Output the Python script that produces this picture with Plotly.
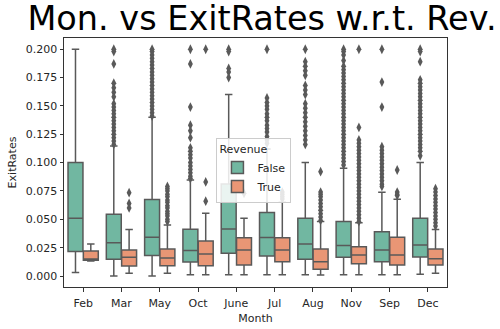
import plotly.graph_objects as go

months = ["Feb", "Mar", "May", "Oct", "June", "Jul", "Aug", "Nov", "Sep", "Dec"]

# Revenue = False
f_lower = [0.003, 0.000, 0.000, 0.001, 0.001, 0.001, 0.001, 0.001, 0.001, 0.0015]
f_q1 = [0.0215, 0.0147, 0.018, 0.0124, 0.020, 0.0176, 0.0147, 0.0165, 0.0126, 0.0168]
f_med = [0.0509, 0.0294, 0.0341, 0.0224, 0.0415, 0.034, 0.0282, 0.0268, 0.0229, 0.0274]
f_q3 = [0.100, 0.0544, 0.0674, 0.0412, 0.0812, 0.056, 0.0509, 0.048, 0.0391, 0.0509]
f_upper = [0.200, 0.1147, 0.140, 0.0847, 0.160, 0.112, 0.100, 0.095, 0.0738, 0.100]

# Revenue = True
t_lower = [0.0133, 0.0024, 0.0024, 0.001, 0.001, 0.001, 0.0009, 0.001, 0.001, 0.0024]
t_q1 = [0.0140, 0.0088, 0.0091, 0.0091, 0.0097, 0.0126, 0.0059, 0.0109, 0.0097, 0.0097]
t_med = [0.0150, 0.0165, 0.0159, 0.0194, 0.0229, 0.0229, 0.0126, 0.0185, 0.0185, 0.0153]
t_q3 = [0.0220, 0.0230, 0.0238, 0.0309, 0.0338, 0.0338, 0.0238, 0.0259, 0.0341, 0.0238]
t_upper = [0.0282, 0.041, 0.045, 0.0553, 0.051, 0.065, 0.048, 0.047, 0.0676, 0.041]

# Outliers (per month)
f_out = {
    "Feb": [],
    "Mar": [0.2, 0.198, 0.187, 0.170, 0.166, 0.162, 0.158, 0.152, 0.149, 0.146, 0.143,
            0.140, 0.137, 0.134, 0.131, 0.128, 0.125, 0.122, 0.119, 0.116],
    "May": [0.2, 0.198, 0.195, 0.192, 0.189, 0.186, 0.183, 0.180, 0.177, 0.174, 0.171,
            0.168, 0.165, 0.162, 0.159, 0.156, 0.153, 0.150, 0.147, 0.144, 0.141],
    "Oct": [0.2, 0.187, 0.149, 0.133, 0.128, 0.122, 0.113, 0.110, 0.107, 0.104, 0.100,
            0.097, 0.094, 0.091, 0.088, 0.086],
    "June": [0.2, 0.198, 0.183, 0.180, 0.175],
    "Jul": [0.2, 0.157, 0.153, 0.150, 0.147, 0.143, 0.140, 0.137, 0.133, 0.130, 0.127,
            0.123, 0.120, 0.117],
    "Aug": [0.2, 0.189, 0.185, 0.181, 0.177, 0.168, 0.164, 0.160, 0.152, 0.148, 0.144,
            0.140, 0.136, 0.132, 0.128, 0.124, 0.120, 0.116],
    "Nov": [0.2, 0.198, 0.195, 0.190, 0.185, 0.182, 0.179, 0.176, 0.173, 0.170, 0.167,
            0.164, 0.161, 0.158, 0.155, 0.152, 0.149, 0.146, 0.143, 0.140, 0.137, 0.134,
            0.131, 0.128, 0.125, 0.122, 0.119, 0.116, 0.113, 0.110, 0.107, 0.104, 0.101, 0.098],
    "Sep": [0.2, 0.171, 0.149, 0.114, 0.111, 0.108, 0.105, 0.102, 0.099, 0.096, 0.093,
            0.090, 0.087, 0.084, 0.081, 0.079],
    "Dec": [0.2, 0.198, 0.189, 0.173, 0.170, 0.167, 0.164, 0.161, 0.158, 0.155, 0.152,
            0.149, 0.146, 0.143, 0.140, 0.137, 0.134, 0.131, 0.128, 0.125, 0.122, 0.119,
            0.116, 0.113, 0.110, 0.106],
}
t_out = {
    "Feb": [],
    "Mar": [0.0735, 0.064, 0.060],
    "May": [0.079, 0.077, 0.075, 0.072, 0.070, 0.067, 0.065, 0.062, 0.060, 0.057, 0.055,
            0.053, 0.050, 0.048],
    "Oct": [0.2, 0.083, 0.066],
    "June": [0.073],
    "Jul": [0.074, 0.072, 0.070, 0.068],
    "Aug": [0.092, 0.074, 0.072, 0.070, 0.067, 0.064, 0.061, 0.058, 0.055, 0.052, 0.049],
    "Nov": [0.2, 0.131, 0.120, 0.117, 0.114, 0.111, 0.108, 0.105, 0.102, 0.099, 0.096,
            0.093, 0.090, 0.087, 0.084, 0.081, 0.078, 0.075, 0.072, 0.069, 0.066, 0.063,
            0.060, 0.057, 0.054, 0.051, 0.048],
    "Sep": [0.0935, 0.074, 0.072, 0.071],
    "Dec": [0.077, 0.074, 0.071, 0.068, 0.065, 0.062, 0.059, 0.056, 0.053, 0.050, 0.047, 0.044],
}

GREEN = "#71b7a1"
ORANGE = "#e99675"
GRAY = "#595959"
OFF = 0.2
BW = 0.39

idx = list(range(len(months)))
fig = go.Figure()

for name, col, off, lo, q1, med, q3, up, outs in [
    ("False", GREEN, -OFF, f_lower, f_q1, f_med, f_q3, f_upper, f_out),
    ("True", ORANGE, OFF, t_lower, t_q1, t_med, t_q3, t_upper, t_out),
]:
    xs = [i + off for i in idx]
    fig.add_trace(go.Box(
        name=name, x=xs, q1=q1, median=med, q3=q3, lowerfence=lo, upperfence=up,
        width=BW, fillcolor=col, line=dict(color=GRAY, width=1.5),
        whiskerwidth=0.5, boxpoints=False, showlegend=True,
    ))
    ox, oy = [], []
    for i, m in enumerate(months):
        for v in outs[m]:
            ox.append(i + off)
            oy.append(v)
    fig.add_trace(go.Scatter(
        x=ox, y=oy, mode="markers", showlegend=False, hoverinfo="skip",
        marker=dict(symbol="diamond-tall", size=7, color=GRAY, line=dict(width=0)),
    ))

FONT = "DejaVu Sans"
fig.update_layout(
    width=500, height=329,
    margin=dict(l=64, r=53, t=38, b=42),
    paper_bgcolor="white", plot_bgcolor="white",
    font=dict(family=FONT, size=11, color="#262626"),
    title=dict(text="Mon. vs ExitRates w.r.t. Rev.", x=0.524, xanchor="center",
               y=0.945, yanchor="middle", font=dict(family=FONT, size=33.5, color="black")),
    legend=dict(
        title=dict(text="Revenue", side="top", font=dict(size=11)),
        x=0.398, y=0.60, xanchor="left", yanchor="top",
        bgcolor="rgba(255,255,255,0.85)", bordercolor="#cccccc", borderwidth=1,
        font=dict(size=11), itemwidth=30, tracegroupgap=0,
    ),
    xaxis=dict(
        range=[-0.5, 9.5], tickmode="array", tickvals=idx, ticktext=months,
        showline=True, linecolor="#333333", linewidth=1, mirror=True,
        ticks="outside", ticklen=3.5, tickwidth=0.8, tickcolor="#333333",
        ticklabelstandoff=2, automargin=False,
        showgrid=False, zeroline=False,
        title=dict(text="Month", font=dict(size=11), standoff=5),
    ),
    yaxis=dict(
        range=[-0.0097, 0.2099], tickmode="array",
        tickvals=[0, 0.025, 0.05, 0.075, 0.1, 0.125, 0.15, 0.175, 0.2],
        tickformat=".3f", automargin=False,
        showline=True, linecolor="#333333", linewidth=1, mirror=True,
        ticks="outside", ticklen=3.5, tickwidth=0.8, tickcolor="#333333",
        showgrid=False, zeroline=False,
        title=dict(text="ExitRates", font=dict(size=11), standoff=6),
    ),
)

fig.write_html("out.html")
